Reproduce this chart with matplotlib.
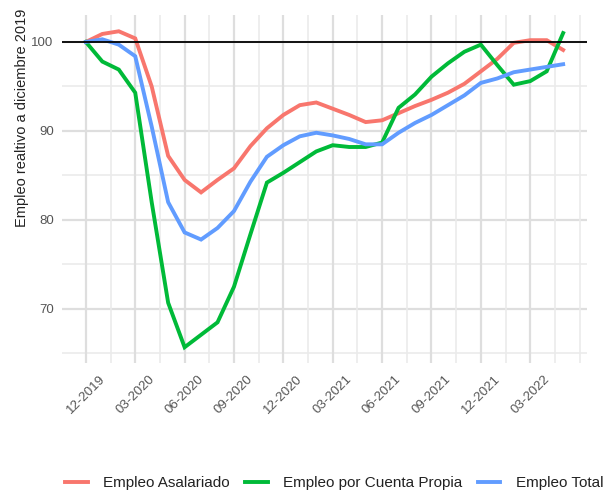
import matplotlib
matplotlib.use("Agg")
import matplotlib.pyplot as plt
from matplotlib import font_manager
import numpy as np
import pandas as pd

# ---- data ----
months = [p.strftime("%m-%Y") for p in pd.period_range("2019-12", "2022-05", freq="M")]
asalariado = [100.0, 100.9, 101.2, 100.4, 95.0, 87.2, 84.5, 83.1, 84.5, 85.8,
              88.3, 90.3, 91.8, 92.9, 93.2, 92.5, 91.8, 91.0, 91.2, 92.0,
              92.8, 93.5, 94.3, 95.3, 96.7, 98.1, 99.9, 100.2, 100.2, 99.1]
cuenta_propia = [100.0, 97.8, 96.9, 94.3, 82.0, 70.7, 65.7, 67.1, 68.5, 72.5,
                 78.4, 84.2, 85.3, 86.5, 87.7, 88.4, 88.2, 88.2, 88.7, 92.6,
                 94.1, 96.1, 97.6, 98.9, 99.7, 97.4, 95.2, 95.6, 96.7, 101.0]
total = [100.0, 100.3, 99.7, 98.4, 90.5, 82.0, 78.6, 77.8, 79.1, 81.0,
         84.3, 87.1, 88.4, 89.4, 89.8, 89.5, 89.1, 88.5, 88.5, 89.8,
         90.9, 91.8, 92.9, 94.0, 95.4, 95.9, 96.6, 96.9, 97.2, 97.5]
series_names = ["Empleo Asalariado", "Empleo por Cuenta Propia", "Empleo Total"]
series_colors = ["#F8766D", "#00BA38", "#619CFF"]
tick_labels = ["12-2019", "03-2020", "06-2020", "09-2020", "12-2020",
               "03-2021", "06-2021", "09-2021", "12-2021", "03-2022"]
y_ticks = [70, 80, 90, 100]

# ---- fonts ----
avail = {f.name for f in font_manager.fontManager.ttflist}
fam = [f for f in ["Liberation Sans Narrow", "Liberation Sans", "DejaVu Sans"] if f in avail]
plt.rcParams["font.family"] = fam

W, H = 611, 496
fig = plt.figure(figsize=(W / 100, H / 100), dpi=100)
L, R, T, B = 62, 587, 15, 363
ax = fig.add_axes([L / W, 1 - B / H, (R - L) / W, (B - T) / H])

x = np.arange(len(months))
xlo, xhi = -1.45, len(months) - 1 + 1.45
ax.set_xlim(xlo, xhi)
ax.set_ylim(63.93, 103.03)

# grid
for v in [65, 75, 85, 95]:
    ax.axhline(v, color="#EBEBEB", lw=1.2, zorder=0)
for v in y_ticks:
    ax.axhline(v, color="#DEDEDE", lw=1.6, zorder=0)
tick_pos = [months.index(t) for t in tick_labels]
minor_x = [p + 1.5 for p in tick_pos] + [tick_pos[-1] + 3]
for v in minor_x:
    ax.axvline(v, color="#EBEBEB", lw=1.2, zorder=0)
for v in tick_pos:
    ax.axvline(v, color="#DEDEDE", lw=1.6, zorder=0)

for ys, name, c in zip([asalariado, cuenta_propia, total], series_names, series_colors):
    ax.plot(x, ys, color=c, lw=2.8, label=name, zorder=2, solid_joinstyle="miter")

ax.axhline(100, color="black", lw=1.3, zorder=3)

for s in ax.spines.values():
    s.set_visible(False)
ax.set_xticks(tick_pos)
ax.set_xticklabels(tick_labels, rotation=45, ha="center", va="top",
                   fontsize=9.5, color="#555555")
ax.set_yticks(y_ticks)
ax.set_yticklabels([str(v) for v in y_ticks], fontsize=9.5, color="#555555")
ax.tick_params(axis="both", length=0)
ax.tick_params(axis="x", pad=7)
ax.tick_params(axis="y", pad=6)

fig.text(22 / W, 1 - 118 / H, "Empleo realtivo a diciembre 2019", rotation=90,
         ha="center", va="center", fontsize=10.5, color="#222222")

handles, labels = ax.get_legend_handles_labels()
leg = fig.legend(handles, labels, loc="center", bbox_to_anchor=(334 / W, 1 - 483 / H),
                 ncol=3, frameon=False, fontsize=11, handlelength=1.5,
                 handletextpad=1.0, columnspacing=1.0)
for t in leg.get_texts():
    t.set_color("#222222")

fig.savefig("out.png", dpi=100, facecolor="white")
